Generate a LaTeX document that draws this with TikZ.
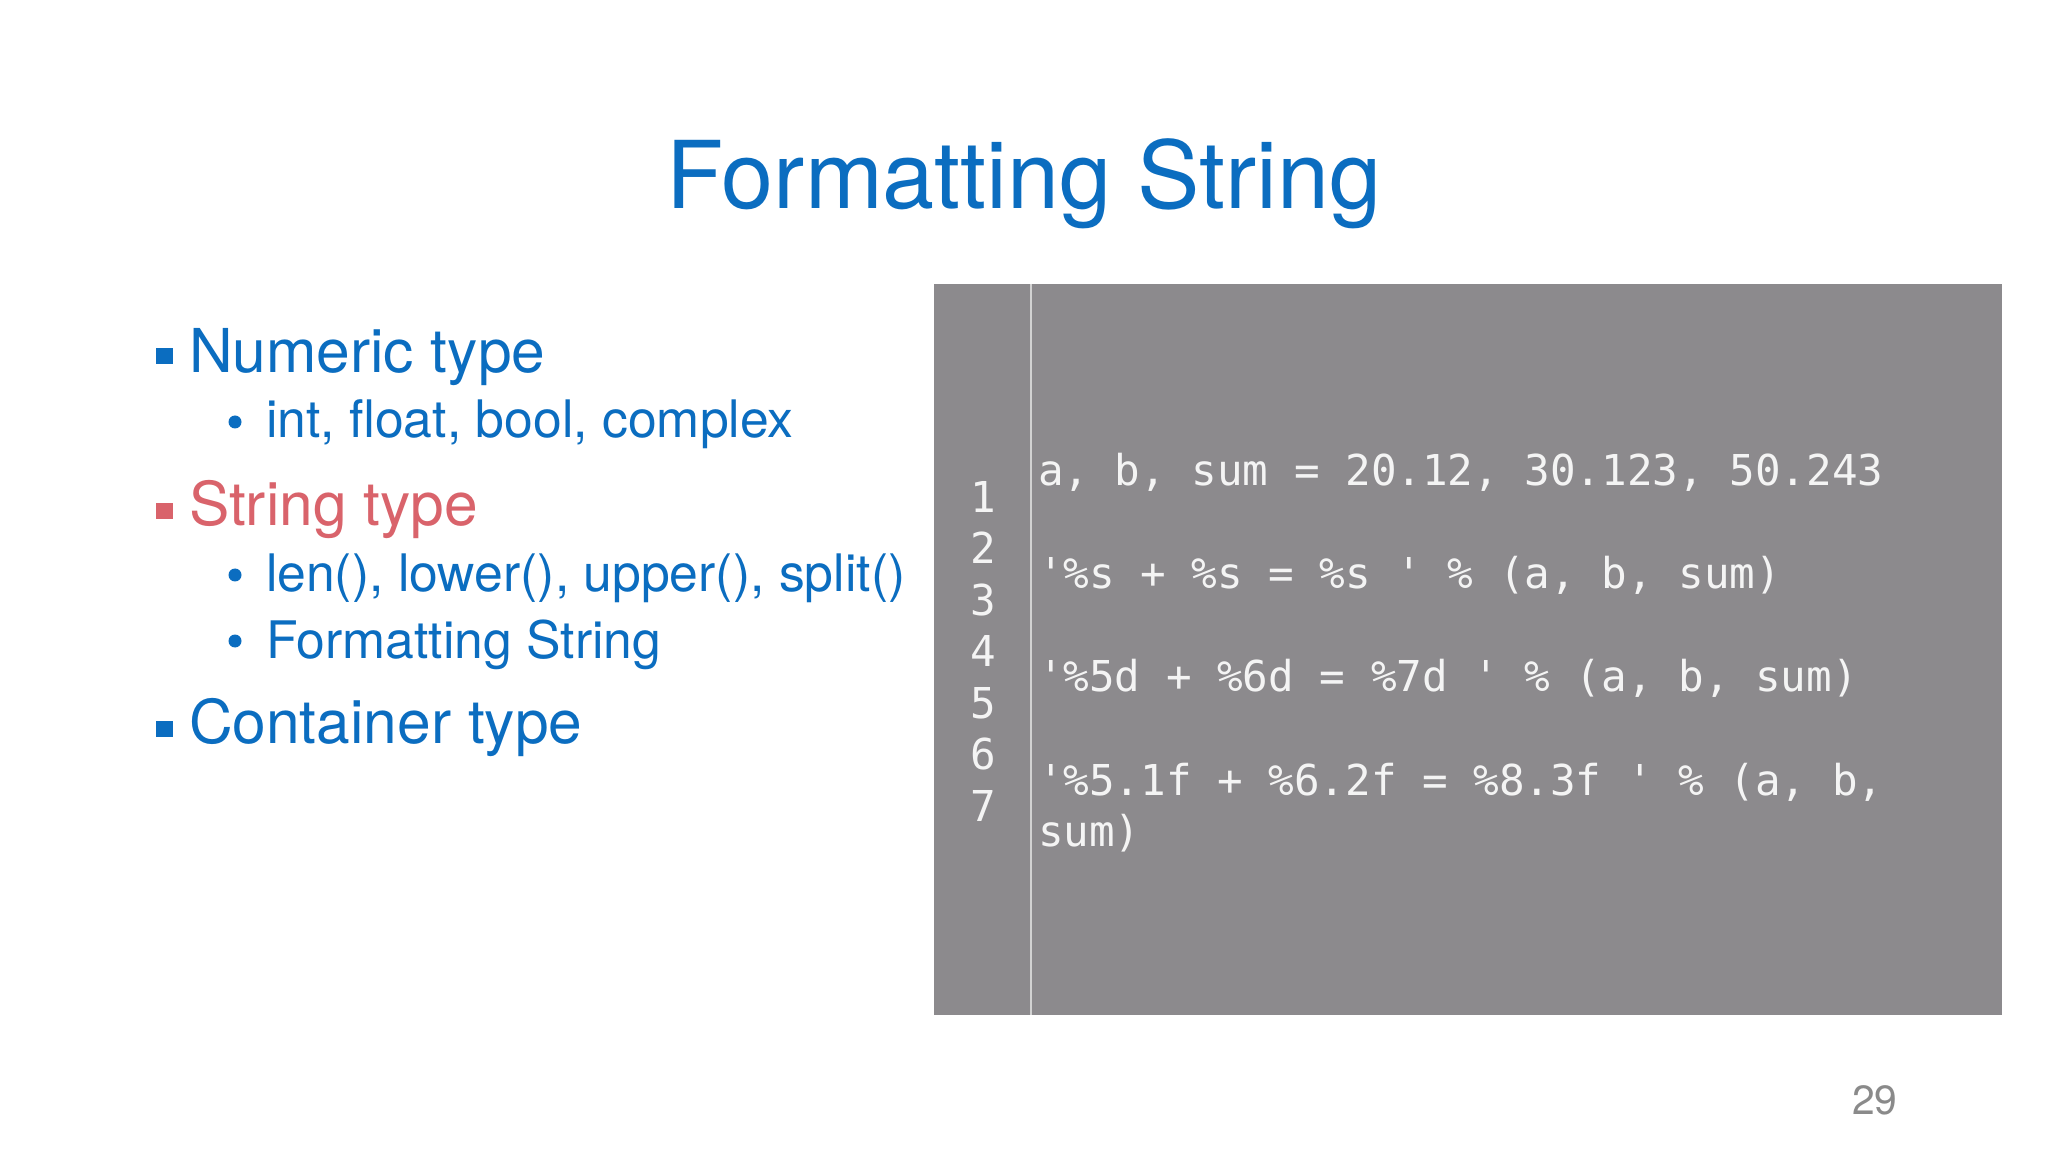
\documentclass[tikz,border=0pt]{standalone}
\usepackage{fontspec}
\setmainfont{TeX Gyre Heros}
\setmonofont{DejaVu Sans Mono}
\definecolor{tblue}{HTML}{0B6DC0}
\definecolor{tred}{HTML}{D9636B}
\definecolor{codebg}{HTML}{8C8A8D}
\definecolor{codefg}{HTML}{F4F4F4}
\definecolor{divline}{HTML}{D2D2D2}
\definecolor{pnum}{HTML}{8A8A8A}
\begin{document}
\begin{tikzpicture}[x=0.01cm,y=-0.01cm,
  every node/.style={inner sep=0pt,outer sep=0pt},
  lvlone/.style={anchor=base west,font=\fontsize{17.2}{20}\selectfont,text=tblue},
  lvltwo/.style={anchor=base west,font=\fontsize{14.7}{17}\selectfont,text=tblue},
  codeline/.style={anchor=base west,font=\ttfamily\fontsize{12.1}{14.6}\selectfont,text=codefg},
  lnum/.style={anchor=base,font=\ttfamily\fontsize{12.1}{14.6}\selectfont,text=codefg},
  sqbullet/.style={fill=#1},
  dotbullet/.style={fill=tblue}]
\useasboundingbox (0,0) rectangle (2048,1152);
\fill[white] (0,0) rectangle (2048,1152);

% title
\node[anchor=base,font=\fontsize{26.6}{30}\selectfont,text=tblue] (title) at (1024,209) {Formatting String};

% left list
\fill[sqbullet=tblue] (156,348) rectangle (173,364);
\node[lvlone] (numeric) at (189,373) {Numeric type};
\fill[dotbullet] (235,422) circle (6.5);
\node[lvltwo] (numsub) at (266,438) {int, float, bool, complex};

\fill[sqbullet=tred] (156,503) rectangle (173,519);
\node[lvlone,text=tred] (string) at (189,525) {String type};
\fill[dotbullet] (235,575) circle (6.5);
\node[lvltwo] (strsubA) at (266,592) {len(), lower(), upper(), split()};
\fill[dotbullet] (235,641) circle (6.5);
\node[lvltwo] (strsubB) at (266,658) {Formatting String};

\fill[sqbullet=tblue] (156,721) rectangle (173,737);
\node[lvlone] (container) at (189,743) {Container type};

% code box
\fill[codebg] (934,284) rectangle (2002,1015);
\draw[divline,line width=0.5pt] (1031,284) -- (1031,1015);

\foreach \i in {1,...,7}{
  \node[lnum] (n\i) at (983,{512+51.5*(\i-1)}) {\i};
}
\node[codeline] (c1) at (1038,486) {a, b, sum = 20.12, 30.123, 50.243};
\node[codeline] (c3) at (1038,589) {'\%s + \%s = \%s ' \% (a, b, sum)};
\node[codeline] (c5) at (1038,692) {'\%5d + \%6d = \%7d ' \% (a, b, sum)};
\node[codeline] (c7) at (1038,795) {'\%5.1f + \%6.2f = \%8.3f ' \% (a, b,};
\node[codeline] (c8) at (1038,846) {sum)};

% page number
\node[anchor=base west,font=\fontsize{11.6}{14}\selectfont,text=pnum] (page) at (1852,1114) {29};
\end{tikzpicture}
\end{document}
